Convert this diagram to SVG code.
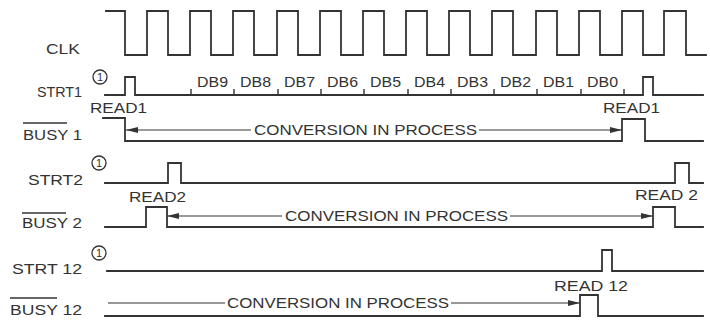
<svg xmlns="http://www.w3.org/2000/svg" width="710" height="320" viewBox="0 0 710 320">
<style>
.wave{fill:none;stroke:#333333;stroke-width:1.8;stroke-linejoin:miter;stroke-linecap:square}
.tick{stroke:#333333;stroke-width:1.4}
.arr{fill:none;stroke:#333333;stroke-width:1}
.ovl{stroke:#333333;stroke-width:1.3}
.circ{fill:none;stroke:#333333;stroke-width:1.3}
text{font-family:"Liberation Sans",Arial,sans-serif;font-size:15px;fill:#333333}
.num{font-size:11px;text-anchor:middle}
</style>
<defs>
<marker id="ah" viewBox="0 0 12 6" refX="12" refY="3" markerWidth="12" markerHeight="6" markerUnits="userSpaceOnUse" orient="auto">
<path d="M0,0 L12,3 L0,6 Z" fill="#333333"/>
</marker>
</defs>
<rect width="710" height="320" fill="#ffffff"/>

<g id="clk">
<text x="46" y="54" textLength="34" lengthAdjust="spacingAndGlyphs">CLK</text>
<path class="wave" d="M106,11 H125 V55 H147 V11 H168 V55 H190 V11 H211 V55 H233 V11 H254 V55 H277 V11 H298 V55 H320 V11 H341 V55 H363 V11 H384 V55 H406 V11 H427 V55 H449 V11 H470 V55 H492 V11 H513 V55 H536 V11 H557 V55 H579 V11 H600 V55 H622 V11 H643 V55 H664 V11 H686 V55 H706"/>
</g>

<g id="strt1">
<text x="37" y="97" textLength="45" lengthAdjust="spacingAndGlyphs">STRT1</text>
<circle class="circ" cx="100" cy="77" r="7"/>
<text class="num" x="100" y="81">1</text>
<path class="wave" d="M105,95 H125 V77 H135 V95 H643 V77 H653 V95 H703"/>
<path class="tick" d="M191,95 V89 M234,95 V89 M278,95 V89 M321,95 V89 M364,95 V89 M408,95 V89 M451,95 V89 M494,95 V89 M537,95 V89 M581,95 V89 M624,95 V89"/>
<text x="197" y="87" textLength="31" lengthAdjust="spacingAndGlyphs">DB9</text>
<text x="240" y="87" textLength="31" lengthAdjust="spacingAndGlyphs">DB8</text>
<text x="284" y="87" textLength="31" lengthAdjust="spacingAndGlyphs">DB7</text>
<text x="327" y="87" textLength="31" lengthAdjust="spacingAndGlyphs">DB6</text>
<text x="370" y="87" textLength="31" lengthAdjust="spacingAndGlyphs">DB5</text>
<text x="414" y="87" textLength="31" lengthAdjust="spacingAndGlyphs">DB4</text>
<text x="457" y="87" textLength="31" lengthAdjust="spacingAndGlyphs">DB3</text>
<text x="500" y="87" textLength="31" lengthAdjust="spacingAndGlyphs">DB2</text>
<text x="543" y="87" textLength="31" lengthAdjust="spacingAndGlyphs">DB1</text>
<text x="587" y="87" textLength="31" lengthAdjust="spacingAndGlyphs">DB0</text>
</g>

<g id="busy1">
<text x="90" y="113" textLength="57" lengthAdjust="spacingAndGlyphs">READ1</text>
<text x="603" y="113" textLength="57" lengthAdjust="spacingAndGlyphs">READ1</text>
<text x="23" y="140" textLength="59" lengthAdjust="spacingAndGlyphs">BUSY 1</text>
<line class="ovl" x1="23" y1="123" x2="67" y2="123"/>
<path class="wave" d="M103,118 H125 V141 H622 V119 H645 V141 H703"/>
</g>

<g id="strt2">
<circle class="circ" cx="99" cy="163" r="7"/>
<text class="num" x="99" y="167">1</text>
<text x="28" y="185" textLength="55" lengthAdjust="spacingAndGlyphs">STRT2</text>
<path class="wave" d="M105,183 H168 V163 H181 V183 H675 V163 H689 V183 H703"/>
</g>

<g id="busy2">
<text x="129" y="202" textLength="57" lengthAdjust="spacingAndGlyphs">READ2</text>
<text x="635" y="200" textLength="63" lengthAdjust="spacingAndGlyphs">READ 2</text>
<text x="22" y="228" textLength="60" lengthAdjust="spacingAndGlyphs">BUSY 2</text>
<line class="ovl" x1="22" y1="213" x2="66" y2="213"/>
<path class="wave" d="M105,227 H146 V207 H167 V227 H653 V207 H675 V227 H703"/>
</g>

<g id="strt12">
<circle class="circ" cx="99" cy="253" r="7"/>
<text class="num" x="99" y="257">1</text>
<text x="12" y="274" textLength="70" lengthAdjust="spacingAndGlyphs">STRT 12</text>
<path class="wave" d="M107,271 H602 V250 H612 V271 H703"/>
</g>

<g id="busy12">
<text x="554" y="291" textLength="74" lengthAdjust="spacingAndGlyphs">READ 12</text>
<text x="10" y="315" textLength="72" lengthAdjust="spacingAndGlyphs">BUSY 12</text>
<line class="ovl" x1="10" y1="298" x2="57" y2="298"/>
<path class="wave" d="M105,316 H580 V295 H598 V316 H703"/>
</g>

<g id="connectors">
<line class="arr" x1="251" y1="130" x2="126" y2="130" marker-end="url(#ah)"/>
<text x="254" y="135" textLength="223" lengthAdjust="spacingAndGlyphs">CONVERSION IN PROCESS</text>
<line class="arr" x1="479" y1="130" x2="622" y2="130" marker-end="url(#ah)"/>

<line class="arr" x1="282" y1="216" x2="167" y2="216" marker-end="url(#ah)"/>
<text x="285" y="221" textLength="223" lengthAdjust="spacingAndGlyphs">CONVERSION IN PROCESS</text>
<line class="arr" x1="510" y1="216" x2="653" y2="216" marker-end="url(#ah)"/>

<line class="arr" x1="108" y1="303" x2="225" y2="303"/>
<text x="227" y="308" textLength="222" lengthAdjust="spacingAndGlyphs">CONVERSION IN PROCESS</text>
<line class="arr" x1="451" y1="303" x2="580" y2="303" marker-end="url(#ah)"/>
</g>
</svg>
